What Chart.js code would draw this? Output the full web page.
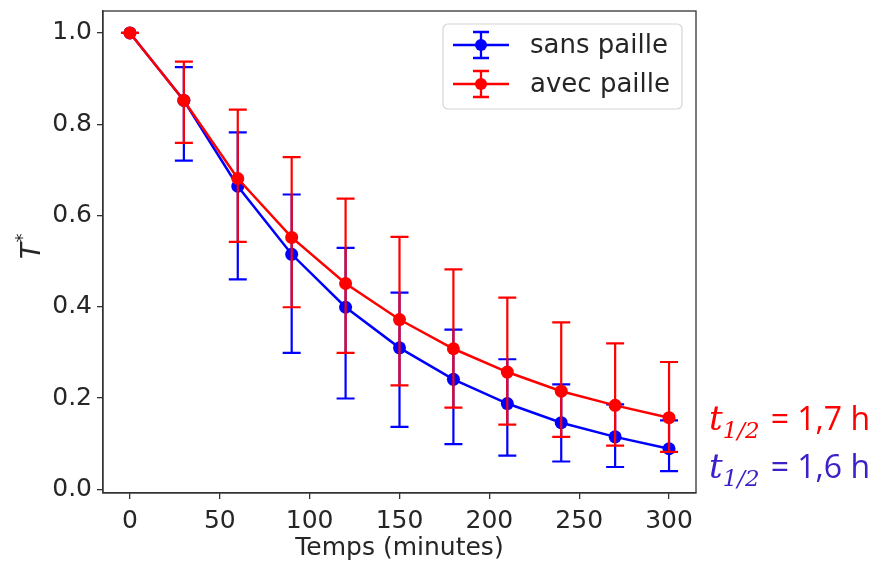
<!DOCTYPE html>
<html>
<head>
<meta charset="utf-8">
<script src="https://cdn.jsdelivr.net/npm/chart.js@4.4.1/dist/chart.umd.min.js"></script>
<style>
  html, body { margin: 0; padding: 0; background: #fff; }
  canvas { display: block; }
</style>
</head>
<body>
<canvas id="c" width="880" height="563"></canvas>
<script>
// --------- data -----------------------------
const temps = [0, 30, 60, 90, 120, 150, 180, 210, 240, 270, 300];

const sansPaille    = [1.0, 0.852, 0.664, 0.515, 0.399, 0.310, 0.241, 0.188, 0.146, 0.115, 0.089];
const sansPailleBas = [1.0, 0.720, 0.460, 0.299, 0.199, 0.137, 0.099, 0.074, 0.061, 0.049, 0.040];
const sansPailleHaut= [1.0, 0.925, 0.782, 0.646, 0.529, 0.431, 0.350, 0.285, 0.230, 0.186, 0.151];

const avecPaille    = [1.0, 0.852, 0.681, 0.552, 0.451, 0.372, 0.308, 0.257, 0.215, 0.184, 0.157];
const avecPailleBas = [1.0, 0.759, 0.542, 0.399, 0.299, 0.228, 0.179, 0.142, 0.115, 0.096, 0.082];
const avecPailleHaut= [1.0, 0.937, 0.832, 0.728, 0.637, 0.553, 0.482, 0.420, 0.366, 0.320, 0.279];

const xTicks = [0, 50, 100, 150, 200, 250, 300];
const yTicks = [0, 0.2, 0.4, 0.6, 0.8, 1.0];

const BLUE = "#0000ff";
const RED = "#ff0000";
const INK = "#262626";
const FONT = "'DejaVu Sans', sans-serif";

const pts = (ys) => temps.map((t, i) => ({ x: t, y: ys[i] }));

// barres d'erreur par dataset
const errBars = [
  { lo: sansPailleBas, hi: sansPailleHaut },
  { lo: avecPailleBas, hi: avecPailleHaut }
];

const errorBarPlugin = {
  id: "errorBars",
  beforeDatasetDraw(chart, args) {
    const eb = errBars[args.index];
    if (!eb) return;
    const { ctx, scales: { x, y } } = chart;
    const col = chart.data.datasets[args.index].borderColor;
    ctx.save();
    ctx.strokeStyle = col;
    ctx.lineWidth = 2.2;
    temps.forEach((t, i) => {
      const px = x.getPixelForValue(t);
      const y1 = y.getPixelForValue(eb.lo[i]);
      const y2 = y.getPixelForValue(eb.hi[i]);
      ctx.beginPath();
      ctx.moveTo(px, y1); ctx.lineTo(px, y2);
      ctx.moveTo(px - 9, y1); ctx.lineTo(px + 9, y1);
      ctx.moveTo(px - 9, y2); ctx.lineTo(px + 9, y2);
      ctx.stroke();
    });
    ctx.restore();
  }
};

// cadre + légende + annotations t1/2 + titre Y
const decorPlugin = {
  id: "decor",
  afterDraw(chart) {
    const { ctx, chartArea: a } = chart;
    ctx.save();

    // cadre (4 côtés comme matplotlib)
    ctx.strokeStyle = "#333";
    ctx.lineWidth = 1.3;
    ctx.strokeRect(a.left, a.top, a.right - a.left, a.bottom - a.top);

    // légende
    const lx = 443, ly = 24, lw = 239, lh = 85, r = 5;
    ctx.beginPath();
    ctx.roundRect(lx, ly, lw, lh, r);
    ctx.fillStyle = "rgba(255,255,255,0.8)";
    ctx.fill();
    ctx.strokeStyle = "#d6d6d6";
    ctx.lineWidth = 1.2;
    ctx.stroke();

    const rows = [45, 84];
    chart.data.datasets.forEach((ds, i) => {
      const cy = rows[i];
      const cx = 481;
      ctx.strokeStyle = ds.borderColor;
      ctx.fillStyle = ds.borderColor;
      ctx.lineWidth = 2.3;
      ctx.beginPath();
      ctx.moveTo(453, cy); ctx.lineTo(509, cy);
      ctx.moveTo(cx, cy - 13); ctx.lineTo(cx, cy + 13);
      ctx.moveTo(cx - 8, cy - 13); ctx.lineTo(cx + 8, cy - 13);
      ctx.moveTo(cx - 8, cy + 13); ctx.lineTo(cx + 8, cy + 13);
      ctx.stroke();
      ctx.beginPath();
      ctx.arc(cx, cy, 6, 0, Math.PI * 2);
      ctx.fill();
      ctx.fillStyle = INK;
      ctx.font = "26px " + FONT;
      ctx.textBaseline = "middle";
      ctx.textAlign = "left";
      ctx.fillText(ds.label, 530, cy + 1);
    });

    // titre axe Y : T*
    ctx.save();
    ctx.translate(31, 247);
    ctx.rotate(-Math.PI / 2);
    ctx.fillStyle = INK;
    ctx.textBaseline = "middle";
    ctx.textAlign = "center";
    ctx.font = "italic 26px " + FONT;
    ctx.fillText("T", -4, 2);
    ctx.font = "18px " + FONT;
    ctx.fillText("*", 9, -8);
    ctx.restore();

    // annotations demi-vie
    const half = [
      { col: RED, base: 430, txt: "= 1,7 h" },
      { col: "#3b22c8", base: 478, txt: "= 1,6 h" }
    ];
    half.forEach(h => {
      let x0 = 709;
      ctx.fillStyle = h.col;
      ctx.textBaseline = "alphabetic";
      ctx.textAlign = "left";
      ctx.font = "italic 34px 'DejaVu Serif', serif";
      ctx.fillText("t", x0, h.base);
      x0 += ctx.measureText("t").width;
      ctx.font = "italic 23px 'DejaVu Serif', serif";
      ctx.fillText("1/2", x0, h.base + 8);
      x0 += ctx.measureText("1/2").width + 11;
      ctx.font = "32px 'Open Sans', sans-serif";
      ctx.fillText(h.txt, x0, h.base);
    });

    ctx.restore();
  }
};

const axisGrid = { drawOnChartArea: false, drawTicks: true, tickLength: 6, color: "#333", lineWidth: 1.3 };

new Chart(document.getElementById("c"), {
  type: "line",
  data: {
    datasets: [
      { label: "sans paille", data: pts(sansPaille), borderColor: BLUE, backgroundColor: BLUE,
        borderWidth: 2.5, pointRadius: 6.5, pointBorderWidth: 0, pointBackgroundColor: BLUE, order: 1 },
      { label: "avec paille", data: pts(avecPaille), borderColor: RED, backgroundColor: RED,
        borderWidth: 2.5, pointRadius: 6.5, pointBorderWidth: 0, pointBackgroundColor: RED, order: 0 }
    ]
  },
  options: {
    responsive: false,
    animation: false,
    devicePixelRatio: 1,
    layout: { padding: { left: 0, right: 184, top: 11, bottom: 0 } },
    plugins: { legend: { display: false }, tooltip: { enabled: false } },
    scales: {
      x: {
        type: "linear", min: -15, max: 315,
        grid: axisGrid,
        border: { display: true, color: "#333", width: 1.3 },
        ticks: { color: INK, font: { family: FONT, size: 25 }, padding: 7 },
        title: { display: true, text: "Temps (minutes)", color: INK, font: { family: FONT, size: 25 }, padding: { top: 0, bottom: 0 } },
        afterBuildTicks: s => { s.ticks = xTicks.map(v => ({ value: v })); },
        afterFit: s => { s.height = 70; s.paddingLeft = 0; s.paddingRight = 0; }
      },
      y: {
        type: "linear", min: -0.008, max: 1.048,
        grid: axisGrid,
        border: { display: true, color: "#333", width: 1.3 },
        ticks: { color: INK, font: { family: FONT, size: 25 }, padding: 5, callback: v => v.toFixed(1) },
        afterBuildTicks: s => { s.ticks = yTicks.map(v => ({ value: v })); },
        afterFit: s => { s.width = 103; s.paddingTop = 0; s.paddingBottom = 0; }
      }
    }
  },
  plugins: [errorBarPlugin, decorPlugin]
});
</script>
</body>
</html>
